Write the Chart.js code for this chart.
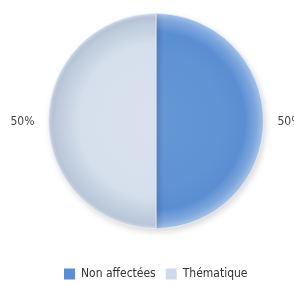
<!DOCTYPE html>
<html>
<head>
<meta charset="utf-8">
<script src="https://cdn.jsdelivr.net/npm/chart.js@4/dist/chart.umd.min.js"></script>
<style>
html,body{margin:0;padding:0;background:#fff;}
#wrap{width:294px;height:286px;position:relative;}
</style>
</head>
<body>
<div id="wrap"><canvas id="c" width="294" height="286"></canvas></div>
<script>
const categories = ["Non affectées", "Thématique"];
const values = [50, 50];
const pctLabels = ["50%", "50%"];
const baseColors = ["#5b8ed2", "#cfdaea"];
const FONT = "12px 'Liberation Sans Narrow', 'DejaVu Sans Condensed', sans-serif";

function sliceFill(ctx) {
  const chart = ctx.chart;
  const a = chart.chartArea;
  if (!a) return baseColors[ctx.dataIndex];
  const cx = (a.left + a.right) / 2, cy = (a.top + a.bottom) / 2;
  const r = Math.min(a.right - a.left, a.bottom - a.top) / 2;
  const g = chart.ctx.createRadialGradient(cx, cy, 0, cx, cy, r);
  if (ctx.dataIndex === 0) {
    g.addColorStop(0, "#6597d5");
    g.addColorStop(0.6, "#5f93d4");
    g.addColorStop(0.82, "#5a8ed2");
    g.addColorStop(0.93, "#7ea7dd");
    g.addColorStop(1, "#aac6ea");
  } else {
    g.addColorStop(0, "#d9e2ee");
    g.addColorStop(0.72, "#d5deeb");
    g.addColorStop(0.88, "#c1cede");
    g.addColorStop(0.96, "#b9c6d8");
    g.addColorStop(1, "#d3dcea");
  }
  return g;
}

const pctPlugin = {
  id: "pct",
  afterDatasetsDraw(chart) {
    const meta = chart.getDatasetMeta(0);
    const c = chart.ctx;
    c.save();
    c.font = FONT;
    c.fillStyle = "#444";
    c.textAlign = "center";
    c.textBaseline = "middle";
    meta.data.forEach((arc, i) => {
      const mid = (arc.startAngle + arc.endAngle) / 2;
      const rr = arc.outerRadius + 26;
      c.fillText(pctLabels[i], arc.x + Math.cos(mid) * rr, arc.y + Math.sin(mid) * rr + 1);
    });
    c.restore();
  }
};

const legendPlugin = {
  id: "customLegend",
  afterDraw(chart) {
    const c = chart.ctx;
    c.save();
    c.font = FONT;
    c.textBaseline = "middle";
    c.textAlign = "left";
    let x = 64;
    const y = 274;
    categories.forEach((t, i) => {
      c.fillStyle = baseColors[i];
      c.fillRect(x, y - 5.5, 11, 11);
      x += 11 + 6;
      c.fillStyle = "#333";
      c.fillText(t, x, y);
      x += c.measureText(t).width + 10;
    });
    c.restore();
  }
};

const shadowPlugin = {
  id: "shadow",
  beforeDatasetsDraw(chart) {
    const c = chart.ctx;
    c.save();
    c.shadowColor = "rgba(0,0,0,0.15)";
    c.shadowBlur = 6;
    c.shadowOffsetX = 2;
    c.shadowOffsetY = 3;
  },
  afterDatasetsDraw(chart) {
    chart.ctx.restore();
  }
};

new Chart(document.getElementById("c"), {
  type: "pie",
  data: {
    labels: categories,
    datasets: [{
      data: values,
      backgroundColor: sliceFill,
      borderColor: "rgba(235,242,252,0.7)",
      borderWidth: 1
    }]
  },
  options: {
    responsive: false,
    animation: false,
    layout: { padding: { left: 48, right: 30, top: 13, bottom: 57 } },
    plugins: {
      tooltip: { enabled: false },
      legend: { display: false }
    }
  },
  plugins: [shadowPlugin, pctPlugin, legendPlugin]
});
</script>
</body>
</html>
